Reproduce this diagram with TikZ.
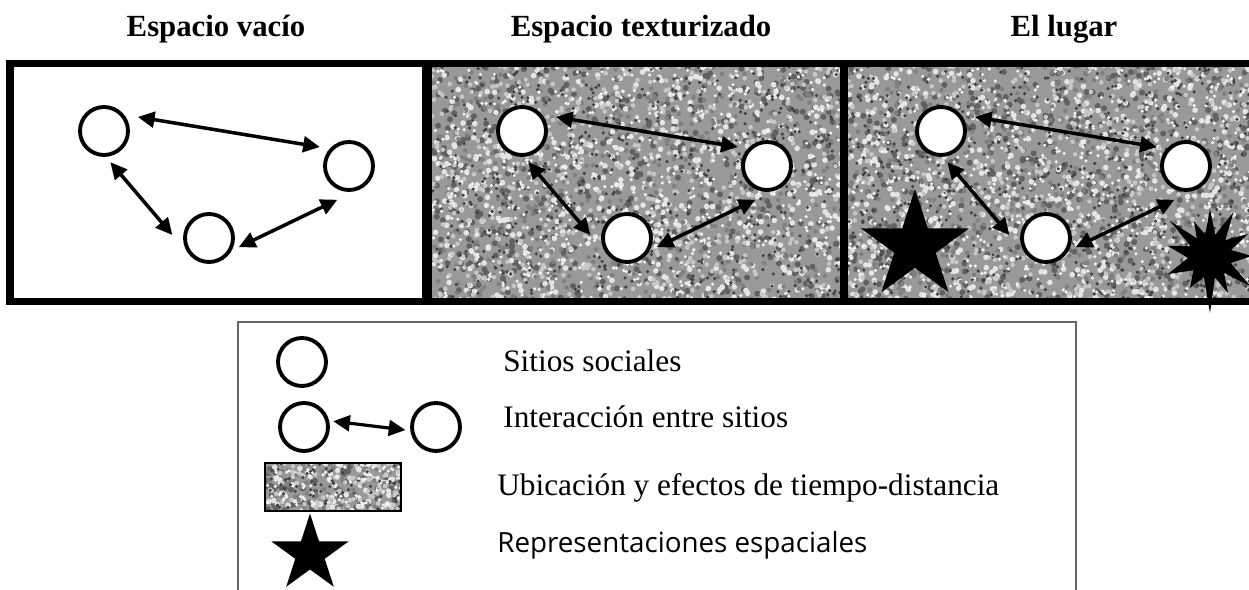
\documentclass[tikz,border=0pt]{standalone}
\usepackage{fontspec}
\setmainfont{Liberation Serif}
\newfontfamily\legsans{Open Sans}
\usetikzlibrary{shapes.geometric,arrows.meta}

\newcommand\noisebox[5]{%
  \begin{scope}
  \clip (#1,#2) rectangle (#3,#4);
  \fill[black!40] (#1,#2) rectangle (#3,#4);
  \foreach \shd/\rad in {62/1.7,10/1.6,50/1.3,22/1.3,74/1.0,5/1.0}{
    \fill[black!\shd] \foreach \k in {1,...,#5}{ ({#1+rnd*(#3-#1)},{#2+rnd*(#4-#2)}) circle[radius=\rad pt] };
  }
  \end{scope}}

\begin{document}
\begin{tikzpicture}[x=0.02cm,y=-0.02cm,
  site/.style={circle,draw=black,fill=white,line width=2.2pt,minimum size=0.96cm,inner sep=0pt},
  link/.style={{Triangle[length=9.5pt,width=9pt]}-{Triangle[length=9.5pt,width=9pt]},line width=2pt},
  frameline/.style={line width=4pt},
  ttl/.style={font=\fontsize{17.5}{20}\selectfont\bfseries,anchor=base},
  leg/.style={font=\fontsize{17.8}{21}\selectfont,anchor=base west,inner sep=0pt},
  starshape/.style={star,star points=5,star point ratio=2.618,fill=black,inner sep=0pt}
  ]
\pgfmathsetseed{4242}
\useasboundingbox (0,0) rectangle (1249,590);

% titles
\node[ttl] (t1) at (216,37) {Espacio vacío};
\node[ttl] (t2) at (641,37) {Espacio texturizado};
\node[ttl] (t3) at (1064,37) {El lugar};

% panels
\fill[white] (10,63.5) rectangle (427,301.5);
\noisebox{427}{63.5}{844}{301.5}{550}
\noisebox{844}{63.5}{1255}{301.5}{550}
\draw[frameline] (1255,63.5) -- (10,63.5) -- (10,301.5) -- (1255,301.5);
\draw[line width=5.5pt] (427,63.5) -- (427,301.5);
\draw[line width=4.5pt] (844,63.5) -- (844,301.5);

% sites and interactions
\foreach \p/\dx in {1/0,2/418,3/837}{
  \node[site] (a\p) at (104+\dx,131) {};
  \node[site] (b\p) at (349+\dx,166) {};
  \node[site] (c\p) at (209+\dx,238) {};
  \draw[link,shorten <=7.9pt,shorten >=5.7pt] (a\p.39) -- (b\p.138);
  \draw[link,shorten <=4pt,shorten >=14.7pt] (a\p.274) -- (c\p.220);
  \draw[link,shorten <=4.5pt,shorten >=11.3pt] (c\p.331) -- (b\p.284);
}

% spatial representations in panel 3
\node[starshape,minimum size=2.28cm] (s3) at (915,246) {};
\fill (1252,256) -- (1231,250) -- (1248,234) -- (1225.3,240.2) -- (1233.5,212)
  -- (1215.3,234.7) -- (1210,209) -- (1205.2,234.5) -- (1194,221.6) -- (1196.8,238.4)
  -- (1170,221) -- (1190.4,246) -- (1168,246) -- (1188.1,257.9) -- (1168,274)
  -- (1193.3,270.3) -- (1190,288) -- (1203.9,277.1) -- (1210,313) -- (1214.9,277.4)
  -- (1228,293) -- (1224,273) -- (1250,286) -- (1230.9,263) -- cycle;

% legend
\draw[line width=1pt,draw=black!60] (238,592) -- (238,322) -- (1076,322) -- (1076,592);
\node[site] (l0) at (302,362) {};
\node[site] (l1) at (304,427) {};
\node[site] (l2) at (436,427) {};
\draw[link,line width=1.8pt,shorten <=2.3pt,shorten >=2.8pt] (l1.14) -- (l2.188);
\noisebox{265}{463}{401}{511}{70}
\draw[line width=1.2pt] (265,463) rectangle (401,511);
\node[starshape,minimum size=1.62cm] (ls) at (310,554) {};

\node[leg] (x1) at (503,372) {Sitios sociales};
\node[leg] (x2) at (503,428) {Interacción entre sitios};
\node[leg] (x3) at (497,496) {Ubicación y efectos de tiempo-distancia};
\node[leg,font=\legsans\fontsize{15.8}{19}\selectfont] (x4) at (497,553) {Representaciones espaciales};
\end{tikzpicture}
\end{document}
